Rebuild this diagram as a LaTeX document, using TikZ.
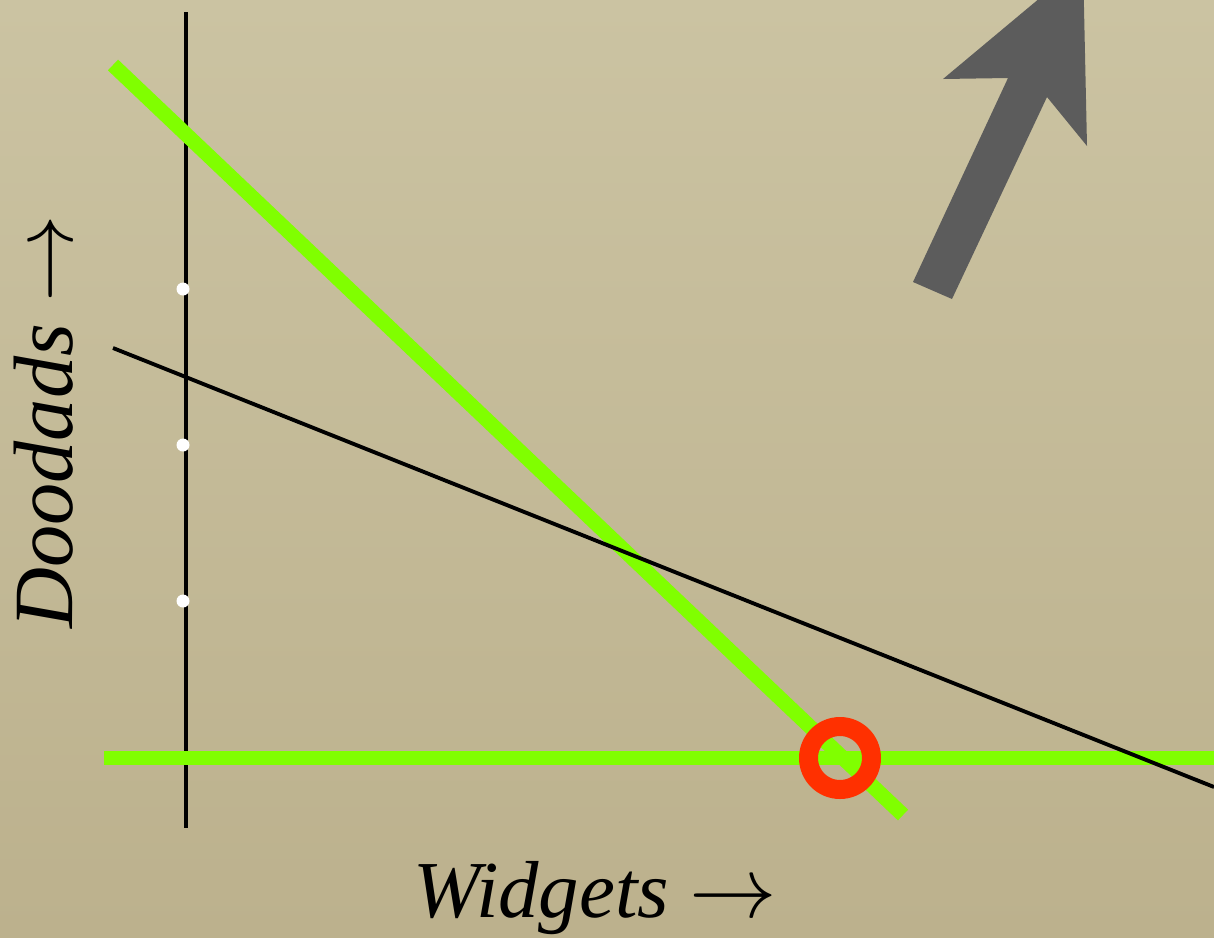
\documentclass[tikz,border=0pt]{standalone}
\usepackage{fontspec}
\setmainfont{Liberation Serif}
\usetikzlibrary{positioning}
\definecolor{khakilight}{RGB}{203,195,162}
\definecolor{khakidark}{RGB}{188,177,141}
\definecolor{limegreen}{RGB}{128,255,0}
\definecolor{ringred}{RGB}{255,48,0}
\definecolor{arrowgray}{RGB}{92,92,92}
\tikzset{
  axis/.style={line width=1.2pt,black},
  guide/.style={line width=1.1pt,black},
  limit/.style={line width=4.2pt,limegreen},
  tickdot/.style={circle,fill=white,inner sep=0pt,minimum size=.13cm},
  optimum/.style={circle,draw=ringred,line width=5.4pt,inner sep=0pt,minimum size=.63cm},
  axislabel/.style={font=\fontsize{23}{27}\selectfont\itshape,inner sep=1pt}
}
\begin{document}
\begin{tikzpicture}[x=.1mm,y=-.1mm]
\useasboundingbox (0,0) rectangle (1214,937);
\shade[top color=khakilight,bottom color=khakidark] (0,0) rectangle (1214,937);
\begin{scope}
\clip (0,0) rectangle (1214,937);
% axis and ticks
\coordinate (ytop) at (186,12);
\coordinate (ybot) at (186,828);
\draw[axis] (ytop) -- (ybot);
\foreach \y/\n in {289/a,445/b,601/c}
  \node[tickdot] (tick\n) at (183,\y) {};
% constraints
\coordinate (d1) at (113,65);
\coordinate (d2) at (903,815);
\coordinate (h1) at (104,758);
\coordinate (h2) at (1214,758);
\draw[limit] (d1) -- (d2);
\draw[limit] (h1) -- (h2);
% objective
\coordinate (g1) at (113,348);
\coordinate (g2) at (1214,787);
\draw[guide] (g1) -- (g2);
\node[optimum] (best) at (840,758) {};
% direction of improvement
\fill[arrowgray] (913,282) -- (1008,78) -- (943,79) -- (1083,-38)
  -- (1087,146) -- (1047,97) -- (952,299) -- cycle;
\end{scope}
\node[axislabel,anchor=base] (wlabel) at (595,917) {Widgets $\rightarrow$};
\node[axislabel,anchor=base,rotate=90,font=\fontsize{24}{28}\selectfont\itshape] (dlabel) at (72,422) {Doodads $\rightarrow$};
\end{tikzpicture}
\end{document}
